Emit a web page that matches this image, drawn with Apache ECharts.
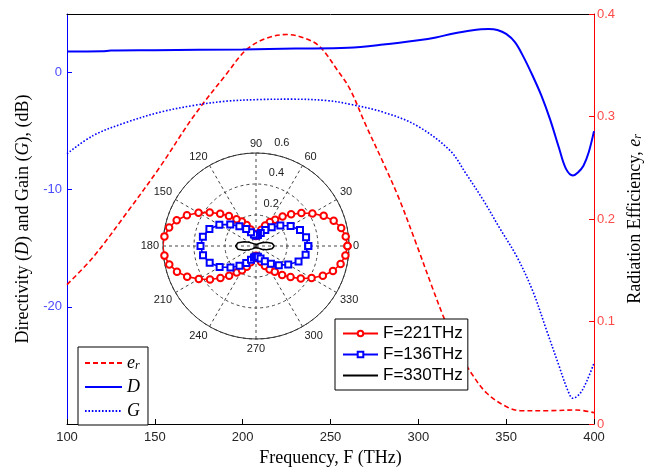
<!DOCTYPE html>
<html>
<head>
<meta charset="utf-8">
<script src="https://cdn.jsdelivr.net/npm/echarts@6/dist/echarts.min.js"></script>
<style>
  html, body { margin: 0; padding: 0; background: #fff; }
  #chart { width: 653px; height: 468px; }
</style>
</head>
<body>
<div id="chart"></div>
<script>
// Frequency sweeps (THz) and the three antenna figures of merit
const freqD = [100, 120, 125, 150, 200, 230, 260, 280, 300, 310, 320, 330, 340, 345, 350, 355, 360, 365, 370, 375, 380, 384, 388, 391, 394, 397, 400];
const directivityDb = [1.79, 1.81, 1.88, 1.91, 1.98, 2.05, 2.12, 2.39, 2.76, 3.0, 3.34, 3.6, 3.72, 3.64, 3.3, 2.6, 1.3, -0.25, -1.95, -4.0, -6.4, -8.2, -8.78, -8.5, -7.95, -6.8, -5.0];

const freqG = [100, 115, 134, 153, 172, 190, 210, 228, 248, 261, 280, 299, 318, 327, 337, 346, 356, 365, 373, 380, 385, 388, 392, 396, 400];
const gainDb = [-6.93, -5.37, -4.24, -3.38, -2.81, -2.45, -2.30, -2.27, -2.39, -2.70, -3.38, -4.52, -6.65, -8.6, -10.9, -13.2, -15.7, -18.6, -22.0, -25.0, -27.1, -27.8, -27.4, -26.3, -24.8];

const freqEr = [100, 115, 134, 153, 172, 191, 202, 213, 225, 236, 244, 254, 261, 270, 280, 289, 299, 308, 314, 320, 325, 330, 339, 350, 358, 375, 390, 400];
const efficiency = [0.136, 0.163, 0.206, 0.251, 0.300, 0.342, 0.365, 0.376, 0.380, 0.376, 0.368, 0.345, 0.327, 0.292, 0.255, 0.220, 0.175, 0.133, 0.106, 0.082, 0.065, 0.050, 0.030, 0.017, 0.013, 0.013, 0.0137, 0.011];

const leftTicks = [-20, -10, 0];
const radiusTicks = [0.2, 0.4, 0.6];

// Radiation patterns (normalised field vs angle in degrees)
const angle221 = [0, 6, 12, 18, 24, 30, 36, 42, 48, 54, 60, 66, 72, 78, 84, 90,
  96, 102, 108, 114, 120, 126, 132, 138, 144, 150, 156, 162, 168, 174, 180,
  186, 192, 198, 204, 210, 216, 222, 228, 234, 240, 246, 252, 258, 264, 270,
  276, 282, 288, 294, 300, 306, 312, 318, 324, 330, 336, 342, 348, 354, 360];
const pattern221 = [0.590, 0.582, 0.562, 0.527, 0.478, 0.420, 0.362, 0.305, 0.256, 0.210, 0.178, 0.145, 0.110, 0.082, 0.068, 0.064,
  0.069, 0.084, 0.112, 0.148, 0.182, 0.214, 0.261, 0.311, 0.369, 0.428, 0.488, 0.538, 0.573, 0.594, 0.602,
  0.594, 0.572, 0.536, 0.486, 0.426, 0.367, 0.309, 0.259, 0.212, 0.180, 0.147, 0.111, 0.083, 0.068, 0.063,
  0.067, 0.081, 0.108, 0.142, 0.175, 0.206, 0.252, 0.300, 0.357, 0.414, 0.472, 0.522, 0.558, 0.580, 0.590];

const angle136 = [0, 10, 20, 30, 40, 50, 60, 70, 80, 90, 100, 110, 120, 130, 140, 150, 160, 170, 180,
  190, 200, 210, 220, 230, 240, 250, 260, 270, 280, 290, 300, 310, 320, 330, 340, 350, 360];
const pattern136 = [0.337, 0.328, 0.302, 0.258, 0.205, 0.158, 0.120, 0.090, 0.072, 0.066, 0.076, 0.095, 0.127, 0.167, 0.217, 0.273, 0.320, 0.348, 0.358,
  0.347, 0.318, 0.271, 0.215, 0.166, 0.126, 0.094, 0.075, 0.067, 0.071, 0.086, 0.114, 0.150, 0.192, 0.240, 0.292, 0.325, 0.337];

const angle330 = [0, 10, 20, 30, 40, 50, 60, 70, 80, 90, 100, 110, 120, 130, 140, 150, 160, 170, 180,
  190, 200, 210, 220, 230, 240, 250, 260, 270, 280, 290, 300, 310, 320, 330, 340, 350, 360];
const pattern330 = [0.118, 0.105, 0.072, 0.042, 0.026, 0.016, 0.010, 0.007, 0.005, 0.004, 0.005, 0.008, 0.011, 0.018, 0.029, 0.047, 0.081, 0.118, 0.132,
  0.118, 0.081, 0.047, 0.029, 0.018, 0.011, 0.008, 0.005, 0.004, 0.005, 0.007, 0.010, 0.016, 0.026, 0.042, 0.072, 0.105, 0.118];

const SERIF = 'Liberation Serif';
const SANS = 'Liberation Sans';

const pairs = (xs, ys) => xs.map((x, i) => [x, ys[i]]);
const polarPairs = (angles, radii) => angles.map((a, i) => [radii[i], a]);

const serifRich = {
  n: { fontFamily: SERIF, fontSize: 18, color: '#000' },
  i: { fontFamily: SERIF, fontSize: 18, fontStyle: 'italic', color: '#000' },
  s: { fontFamily: SERIF, fontSize: 12, fontStyle: 'italic', color: '#000', verticalAlign: 'bottom', lineHeight: 12 }
};

const chart = echarts.init(document.getElementById('chart'), null, { renderer: 'canvas' });

chart.setOption({
  animation: false,
  backgroundColor: '#fff',
  grid: { left: 67, right: 59, top: 14, bottom: 44, outerBoundsMode: 'none' },
  xAxis: [
    {
      type: 'value', min: 100, max: 400, interval: 50,
      axisLine: { onZero: false, lineStyle: { color: '#000', width: 1 } },
      axisTick: { inside: true, length: 5, lineStyle: { color: '#000' } },
      axisLabel: { margin: 7, color: '#262626', fontSize: 13, fontFamily: SANS },
      splitLine: { show: false },
      name: 'Frequency, F (THz)', nameLocation: 'middle', nameGap: 19,
      nameTextStyle: { fontFamily: SERIF, fontSize: 18, color: '#000' }
    },
    {
      type: 'value', position: 'top', min: 100, max: 400,
      axisLine: { onZero: false, lineStyle: { color: '#000', width: 1 } },
      axisTick: { show: false }, axisLabel: { show: false }, splitLine: { show: false }
    }
  ],
  yAxis: [
    {
      type: 'value', position: 'left', min: -30, max: 5, interval: 10,
      axisLine: { onZero: false, lineStyle: { color: '#0000ff', width: 1 } },
      axisTick: { inside: true, length: 5, customValues: leftTicks, lineStyle: { color: '#0000ff' } },
      axisLabel: { customValues: leftTicks, margin: 5, color: '#4a4aff', fontSize: 13, fontFamily: SANS },
      splitLine: { show: false },
      name: '{n|Directivity (}{i|D}{n|) and Gain (}{i|G}{n|), (dB)}',
      nameLocation: 'middle', nameRotate: 90, nameGap: 29,
      nameTextStyle: { fontFamily: SERIF, fontSize: 18, color: '#000', rich: serifRich }
    },
    {
      type: 'value', position: 'right', min: 0, max: 0.4, interval: 0.1,
      axisLine: { onZero: false, lineStyle: { color: '#ff0000', width: 1 } },
      axisTick: { inside: true, length: 5, lineStyle: { color: '#ff0000' } },
      axisLabel: { margin: 3, color: '#ff4a4a', fontSize: 13, fontFamily: SANS,
        formatter: v => String(Math.round(v * 10) / 10) },
      splitLine: { show: false },
      name: '{n|Radiation Efficiency, }{i|e}{s|r}',
      nameLocation: 'middle', nameRotate: 90, nameGap: 25,
      nameTextStyle: { fontFamily: SERIF, fontSize: 18, color: '#000', rich: serifRich }
    }
  ],
  polar: [
    { center: [256, 246], radius: 93 },
    { center: [256, 246], radius: 104.4 }
  ],
  angleAxis: [
    {
      polarIndex: 0, type: 'value', min: 0, max: 360, interval: 30,
      startAngle: 0, clockwise: false,
      axisLine: { lineStyle: { color: '#333', width: 1 } },
      axisTick: { show: false },
      axisLabel: { margin: 4, color: '#222', fontSize: 11, fontFamily: SANS,
        formatter: v => (v === 360 ? '' : String(v)) },
      splitLine: { lineStyle: { color: '#444', width: 1, type: [3, 3] } }
    },
    {
      polarIndex: 1, type: 'value', min: 0, max: 360, startAngle: 80, clockwise: false, show: false
    }
  ],
  radiusAxis: [
    {
      polarIndex: 0, type: 'value', min: 0, max: 0.6, interval: 0.2,
      axisLine: { show: false }, axisTick: { show: false }, axisLabel: { show: false },
      splitLine: { lineStyle: { color: '#444', width: 1, type: [3, 3] } }
    },
    {
      polarIndex: 1, type: 'value', min: -0.08, max: 0.6,
      axisLine: { show: false }, axisTick: { show: false }, splitLine: { show: false },
      axisLabel: { customValues: radiusTicks, margin: 0, align: 'left', verticalAlign: 'middle',
        color: '#222', fontSize: 11, fontFamily: SANS, formatter: v => v.toFixed(1) }
    }
  ],
  legend: [
    {
      orient: 'vertical', left: 78, top: 347, selectedMode: false,
      data: ['er', 'D', 'G'],
      backgroundColor: '#fff', borderColor: '#000', borderWidth: 1,
      padding: [7, 8, 5, 6], itemGap: 6, itemWidth: 37, itemHeight: 14,
      itemStyle: { opacity: 0 },
      formatter: name => (name === 'er' ? '{i|e}{s|r}' : '{i|' + name + '}'),
      textStyle: { fontFamily: SERIF, fontSize: 18, color: '#000', rich: serifRich }
    },
    {
      orient: 'vertical', left: 335, top: 319, selectedMode: false,
      data: ['F=221THz', 'F=136THz', { name: 'F=330THz', itemStyle: { opacity: 0 } }],
      backgroundColor: '#fff', borderColor: '#000', borderWidth: 1,
      padding: [5, 5, 5, 7], itemGap: 2, itemWidth: 35, itemHeight: 7,
      textStyle: { fontFamily: SANS, fontSize: 17, color: '#000', lineHeight: 19 }
    }
  ],
  series: [
    {
      name: 'er', type: 'line', xAxisIndex: 0, yAxisIndex: 1,
      data: pairs(freqEr, efficiency), symbol: 'none', smooth: 0.35,
      lineStyle: { color: '#ff0000', width: 1.6, type: [5, 3] }, itemStyle: { color: '#ff0000' }
    },
    {
      name: 'D', type: 'line', xAxisIndex: 0, yAxisIndex: 0,
      data: pairs(freqD, directivityDb), symbol: 'none', smooth: 0.35,
      lineStyle: { color: '#0000ff', width: 2 }, itemStyle: { color: '#0000ff' }
    },
    {
      name: 'G', type: 'line', xAxisIndex: 0, yAxisIndex: 0,
      data: pairs(freqG, gainDb), symbol: 'none', smooth: 0.35,
      lineStyle: { color: '#0000ff', width: 1.6, type: [1.6, 1.8] }, itemStyle: { color: '#0000ff' }
    },
    {
      name: 'F=221THz', type: 'line', coordinateSystem: 'polar', polarIndex: 0,
      data: polarPairs(angle221, pattern221), showAllSymbol: true,
      symbol: 'emptyCircle', symbolSize: 6.5,
      lineStyle: { color: '#ff0000', width: 1.6 }, itemStyle: { color: '#ff0000', borderWidth: 1.6 }
    },
    {
      name: 'F=136THz', type: 'line', coordinateSystem: 'polar', polarIndex: 0,
      data: polarPairs(angle136, pattern136), showAllSymbol: true,
      symbol: 'emptyRect', symbolSize: 6,
      lineStyle: { color: '#0000ff', width: 1.6 }, itemStyle: { color: '#0000ff', borderWidth: 1.5 }
    },
    {
      name: 'F=330THz', type: 'line', coordinateSystem: 'polar', polarIndex: 0,
      data: polarPairs(angle330, pattern330), symbol: 'none',
      lineStyle: { color: '#000', width: 1.5 }, itemStyle: { color: '#000' }
    }
  ]
});
</script>
</body>
</html>
